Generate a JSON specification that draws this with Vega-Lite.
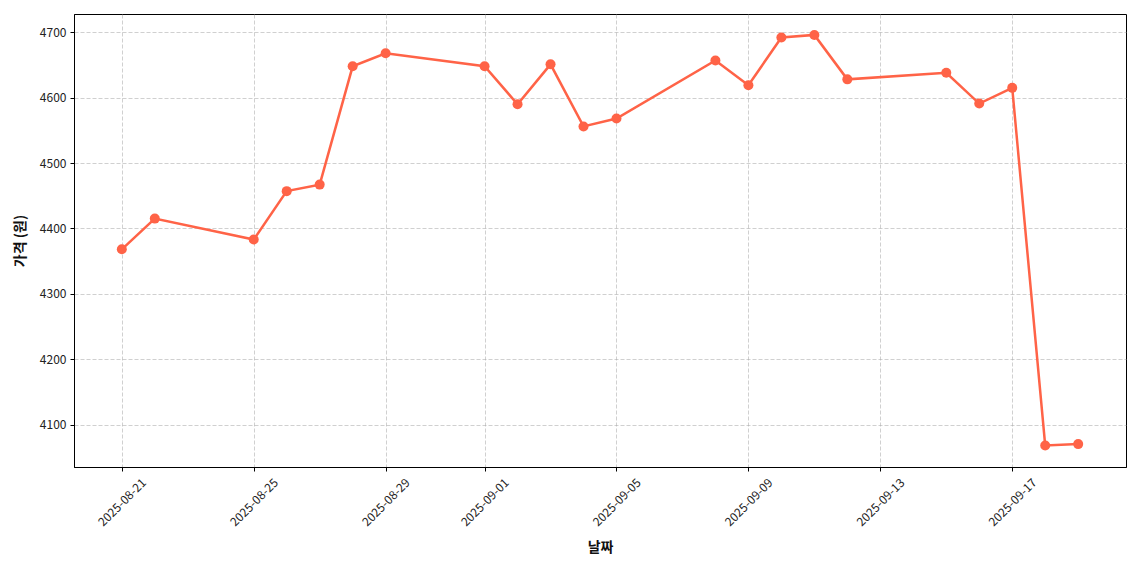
{
  "$schema": "https://vega.github.io/schema/vega-lite/v6.json",
  "autosize": "none",
  "padding": {"left": 74, "top": 14, "right": 14, "bottom": 103},
  "width": 1052,
  "height": 453,
  "background": "white",
  "config": {
    "font": "Noto Sans CJK KR",
    "view": {"stroke": "black", "strokeWidth": 1},
    "axis": {
      "labelFont": "Noto Sans CJK KR",
      "titleFont": "Noto Sans CJK KR",
      "labelFontSize": 12,
      "labelColor": "#222",
      "titleFontSize": 14,
      "titleFontWeight": "bold",
      "titleColor": "#111",
      "domainColor": "black",
      "tickColor": "black",
      "tickSize": 4,
      "gridColor": "#aaaaaa",
      "gridOpacity": 0.7,
      "gridDash": [4, 2],
      "gridWidth": 0.8
    }
  },
  "data": {
    "values": [
      {"date": "2025-08-21", "price": 4368},
      {"date": "2025-08-22", "price": 4415},
      {"date": "2025-08-25", "price": 4383},
      {"date": "2025-08-26", "price": 4457},
      {"date": "2025-08-27", "price": 4467},
      {"date": "2025-08-28", "price": 4648},
      {"date": "2025-08-29", "price": 4668},
      {"date": "2025-09-01", "price": 4648},
      {"date": "2025-09-02", "price": 4590},
      {"date": "2025-09-03", "price": 4651},
      {"date": "2025-09-04", "price": 4556},
      {"date": "2025-09-05", "price": 4568},
      {"date": "2025-09-08", "price": 4657},
      {"date": "2025-09-09", "price": 4619},
      {"date": "2025-09-10", "price": 4692},
      {"date": "2025-09-11", "price": 4696},
      {"date": "2025-09-12", "price": 4628},
      {"date": "2025-09-15", "price": 4638},
      {"date": "2025-09-16", "price": 4591},
      {"date": "2025-09-17", "price": 4615},
      {"date": "2025-09-18", "price": 4068},
      {"date": "2025-09-19", "price": 4070}
    ]
  },
  "encoding": {
    "x": {
      "field": "date",
      "type": "temporal",
      "title": "날짜",
      "scale": {
        "type": "utc",
        "domain": [
          {"year": 2025, "month": 8, "date": 19, "hours": 13, "minutes": 12, "utc": true},
          {"year": 2025, "month": 9, "date": 20, "hours": 10, "minutes": 48, "utc": true}
        ]
      },
      "axis": {
        "values": [
          {"year": 2025, "month": 8, "date": 21, "utc": true},
          {"year": 2025, "month": 8, "date": 25, "utc": true},
          {"year": 2025, "month": 8, "date": 29, "utc": true},
          {"year": 2025, "month": 9, "date": 1, "utc": true},
          {"year": 2025, "month": 9, "date": 5, "utc": true},
          {"year": 2025, "month": 9, "date": 9, "utc": true},
          {"year": 2025, "month": 9, "date": 13, "utc": true},
          {"year": 2025, "month": 9, "date": 17, "utc": true}
        ],
        "labelExpr": "utcFormat(datum.value, '%Y-%m-%d')",
        "labelAngle": -45,
        "labelAlign": "center",
        "labelBaseline": "middle",
        "labelPadding": 31,
        "titlePadding": 12,
        "labelOverlap": false
      }
    },
    "y": {
      "field": "price",
      "type": "quantitative",
      "title": "가격 (원)",
      "scale": {"domain": [4035, 4728], "nice": false, "zero": false},
      "axis": {
        "values": [4100, 4200, 4300, 4400, 4500, 4600, 4700],
        "format": "d",
        "labelPadding": 4,
        "titlePadding": 12
      }
    }
  },
  "layer": [
    {"mark": {"type": "line", "color": "#FF6347", "strokeWidth": 2.5}},
    {"mark": {"type": "point", "filled": true, "color": "#FF6347", "opacity": 1, "size": 100}}
  ]
}
